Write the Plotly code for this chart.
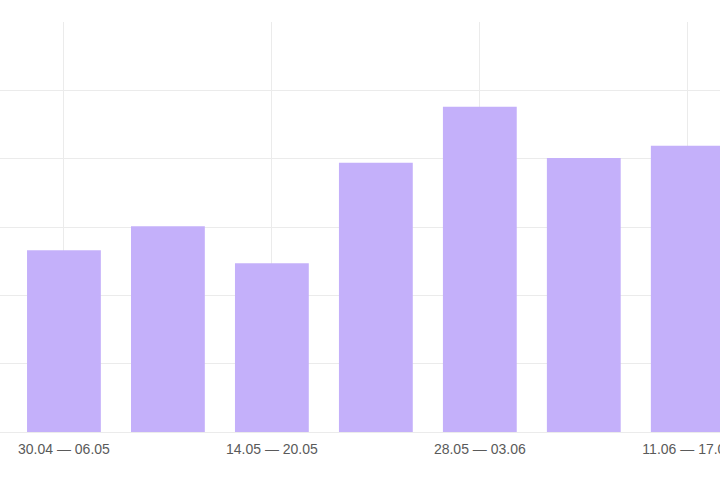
import plotly.graph_objects as go

weeks = ["30.04 — 06.05", "07.05 — 13.05", "14.05 — 20.05", "21.05 — 27.05",
         "28.05 — 03.06", "04.06 — 10.06", "11.06 — 17.06"]
values = [266, 301, 247, 394, 476, 401, 419]
tick_weeks = ["30.04 — 06.05", "14.05 — 20.05", "28.05 — 03.06", "11.06 — 17.06"]

fig = go.Figure(go.Bar(x=list(range(len(weeks))), y=values,
                       marker=dict(color="#c4b0fa", line=dict(width=0)),
                       width=0.71))

fig.update_layout(
    width=720, height=480,
    margin=dict(l=0, r=0, t=22, b=48, autoexpand=False),
    paper_bgcolor="white", plot_bgcolor="white",
    showlegend=False,
    font=dict(family="Arial, Liberation Sans, sans-serif", size=14, color="#5a5a5a"),
)
fig.update_xaxes(
    range=[-0.615, 6.31],
    tickvals=[weeks.index(w) for w in tick_weeks], ticktext=tick_weeks,
    showgrid=True, gridcolor="#ebebeb", gridwidth=1,
    zeroline=False, showline=False, ticks="",
    automargin=False, ticklabeloverflow="allow", ticklabelstandoff=7,
)
fig.update_yaxes(
    range=[0, 600], dtick=100, showticklabels=False,
    showgrid=True, gridcolor="#ebebeb", gridwidth=1,
    zeroline=True, zerolinecolor="#ebebeb", zerolinewidth=1, showline=False,
    automargin=False,
)
fig.write_html("out.html", config={"displayModeBar": False},
               post_script="document.body.style.margin='0';")
